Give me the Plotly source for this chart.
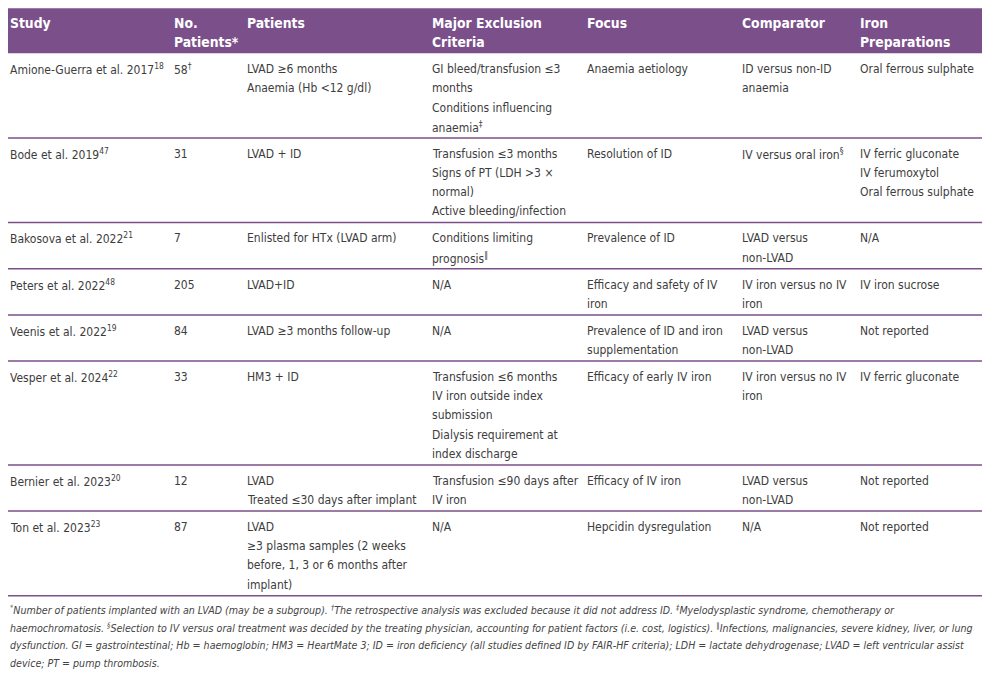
import plotly.graph_objects as go

# ---- table content -------------------------------------------------------
headers = [
    ["Study"],
    ["No.", "Patients*"],
    ["Patients"],
    ["Major Exclusion", "Criteria"],
    ["Focus"],
    ["Comparator"],
    ["Iron", "Preparations"],
]

studies = [
    ["Amione-Guerra et al. 2017<sup>18</sup>"],
    ["Bode et al. 2019<sup>47</sup>"],
    ["Bakosova et al. 2022<sup>21</sup>"],
    ["Peters et al. 2022<sup>48</sup>"],
    ["Veenis et al. 2022<sup>19</sup>"],
    ["Vesper et al. 2024<sup>22</sup>"],
    ["Bernier et al. 2023<sup>20</sup>"],
    ["Ton et al. 2023<sup>23</sup>"],
]

n_patients = [["58<sup>†</sup>"], ["31"], ["7"], ["205"], ["84"], ["33"], ["12"], ["87"]]

patients = [
    ["LVAD ≥6 months", "Anaemia (Hb &lt;12 g/dl)"],
    ["LVAD + ID"],
    ["Enlisted for HTx (LVAD arm)"],
    ["LVAD+ID"],
    ["LVAD ≥3 months follow-up"],
    ["HM3 + ID"],
    ["LVAD", "Treated ≤30 days after implant"],
    ["LVAD", "≥3 plasma samples (2 weeks", "before, 1, 3 or 6 months after", "implant)"],
]

exclusion = [
    ["GI bleed/transfusion ≤3", "months", "Conditions influencing", "anaemia<sup>‡</sup>"],
    ["Transfusion ≤3 months", "Signs of PT (LDH &gt;3 ×", "normal)", "Active bleeding/infection"],
    ["Conditions limiting", "prognosis<sup>‖</sup>"],
    ["N/A"],
    ["N/A"],
    ["Transfusion ≤6 months", "IV iron outside index", "submission", "Dialysis requirement at", "index discharge"],
    ["Transfusion ≤90 days after", "IV iron"],
    ["N/A"],
]

focus = [
    ["Anaemia aetiology"],
    ["Resolution of ID"],
    ["Prevalence of ID"],
    ["Efficacy and safety of IV", "iron"],
    ["Prevalence of ID and iron", "supplementation"],
    ["Efficacy of early IV iron"],
    ["Efficacy of IV iron"],
    ["Hepcidin dysregulation"],
]

comparator = [
    ["ID versus non-ID", "anaemia"],
    ["IV versus oral iron<sup>§</sup>"],
    ["LVAD versus", "non-LVAD"],
    ["IV iron versus no IV", "iron"],
    ["LVAD versus", "non-LVAD"],
    ["IV iron versus no IV", "iron"],
    ["LVAD versus", "non-LVAD"],
    ["N/A"],
]

iron_preps = [
    ["Oral ferrous sulphate"],
    ["IV ferric gluconate", "IV ferumoxytol", "Oral ferrous sulphate"],
    ["N/A"],
    ["IV iron sucrose"],
    ["Not reported"],
    ["IV ferric gluconate"],
    ["Not reported"],
    ["Not reported"],
]

footnotes = [
    "<sup>*</sup>Number of patients implanted with an LVAD (may be a subgroup). <sup>†</sup>The retrospective analysis was excluded because it did not address ID. <sup>‡</sup>Myelodysplastic syndrome, chemotherapy or",
    "haemochromatosis. <sup>§</sup>Selection to IV versus oral treatment was decided by the treating physician, accounting for patient factors (i.e. cost, logistics). <sup>‖</sup>Infections, malignancies, severe kidney, liver, or lung",
    "dysfunction. GI = gastrointestinal; Hb = haemoglobin; HM3 = HeartMate 3; ID = iron deficiency (all studies defined ID by FAIR-HF criteria); LDH = lactate dehydrogenase; LVAD = left ventricular assist",
    "device; PT = pump thrombosis.",
]

columns = [studies, n_patients, patients, exclusion, focus, comparator, iron_preps]

# ---- layout constants ----------------------------------------------------
# page body has an 8px margin, so the figure is 16px smaller and the axes
# are offset so that one data unit == one page pixel
W, H = 990, 677
BODY_MARGIN = 8
PURPLE = "#7b4f8a"
TEXT = "#3d3d3d"
FONT = "DejaVu Sans Condensed, DejaVu Sans, sans-serif"
COL_X = [9, 173, 246, 431, 586, 741, 859]
LEFT, RIGHT = 8, 983.5
HEAD_TOP, HEAD_BOT = 8.3, 53.3
LINE_H = 19.2
PAD_TOP, PAD_BOT = 15, 12
TEXT_NUDGE = 0.8
BODY_SIZE, HEAD_SIZE, NOTE_SIZE = 12.0, 13.8, 10.58

annotations = []
shapes = []


def add_text(x, y, text, size, color, family=FONT):
    annotations.append(dict(
        x=x, y=y, xref="x", yref="y", text=text, showarrow=False,
        xanchor="left", yanchor="middle", align="left", borderpad=0,
        font=dict(family=family, size=size, color=color),
    ))


# header band
shapes.append(dict(type="rect", xref="x", yref="y", x0=LEFT, x1=RIGHT,
                   y0=HEAD_TOP, y1=HEAD_BOT, fillcolor=PURPLE, line_width=0, layer="below"))
for cx, lines in zip(COL_X, headers):
    for i, t in enumerate(lines):
        add_text(cx, 22.7 + i * LINE_H, "<b>" + t + "</b>", HEAD_SIZE, "white")

# body rows
top = HEAD_BOT
for r in range(len(studies)):
    n = max(len(col[r]) for col in columns)
    for cx, col in zip(COL_X, columns):
        for i, t in enumerate(col[r]):
            add_text(cx, top + PAD_TOP + TEXT_NUDGE + i * LINE_H, t, BODY_SIZE, TEXT)
    top = top + PAD_TOP + (n - 1) * LINE_H + PAD_BOT
    shapes.append(dict(type="line", xref="x", yref="y", x0=LEFT, x1=RIGHT,
                       y0=top, y1=top, line=dict(color=PURPLE, width=1.5)))

# footnotes
for i, t in enumerate(footnotes):
    add_text(COL_X[0], top + 13.5 + i * 18, "<i>" + t + "</i>", NOTE_SIZE, "#444444")

fig = go.Figure()
fig.add_trace(go.Scatter(x=[BODY_MARGIN, W - BODY_MARGIN], y=[BODY_MARGIN, H - BODY_MARGIN],
                         mode="markers", marker=dict(opacity=0),
                         hoverinfo="skip", showlegend=False))
fig.update_layout(
    width=W - 2 * BODY_MARGIN, height=H - 2 * BODY_MARGIN,
    margin=dict(l=0, r=0, t=0, b=0),
    paper_bgcolor="white", plot_bgcolor="white",
    xaxis=dict(range=[BODY_MARGIN, W - BODY_MARGIN], visible=False, fixedrange=True),
    yaxis=dict(range=[H - BODY_MARGIN, BODY_MARGIN], visible=False, fixedrange=True),
    annotations=annotations,
    shapes=shapes,
    showlegend=False,
)

fig.write_html("out.html")
